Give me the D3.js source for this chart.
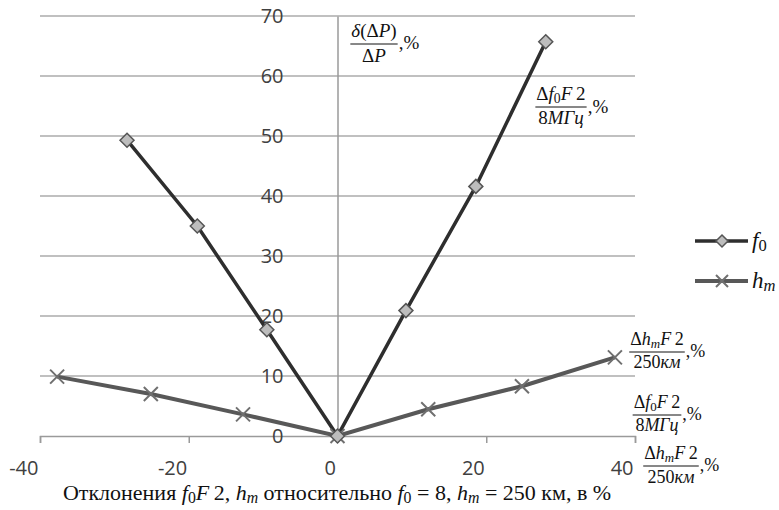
<!DOCTYPE html>
<html>
<head>
<meta charset="utf-8">
<script src="https://cdn.jsdelivr.net/npm/d3@7"></script>
<style>
  html, body { margin: 0; padding: 0; background: #fff; }
  svg { display: block; }
</style>
</head>
<body>
<svg id="chart" width="779" height="510"></svg>
<script>
// ---- data ----
const f0X = [-28.3, -18.85, -9.5, 0, 9.2, 18.6, 28.0];
const f0Y = [49.3, 35.0, 17.7, 0, 20.9, 41.6, 65.7];
const hmX = [-37.7, -25.1, -12.7, 0, 12.2, 24.8, 37.3];
const hmY = [9.9, 7.0, 3.6, 0, 4.45, 8.3, 13.1];
const xTicks = [-40, -20, 0, 20, 40];
const yTicks = [0, 10, 20, 30, 40, 50, 60, 70];
const seriesNames = ["f0", "hm"];

const svg = d3.select("#chart");
const x = d3.scaleLinear().domain([-40, 40]).range([40, 635]);
const y = d3.scaleLinear().domain([0, 70]).range([436, 16]);

const SANS = "'Open Sans', 'Liberation Sans', sans-serif";
const SERIF = "'Liberation Serif', 'DejaVu Serif', serif";

// gridlines
svg.append("g").selectAll("line").data(yTicks.filter(d => d > 0)).join("line")
  .attr("x1", x(-40)).attr("x2", x(40))
  .attr("y1", d => y(d)).attr("y2", d => y(d))
  .attr("stroke", "#ababab").attr("stroke-width", 1.5);

// x axis
const xAxis = d3.axisBottom(x).tickValues(xTicks).tickSize(7).tickFormat(d => String(d));
const gx = svg.append("g").attr("transform", `translate(0,${y(0)})`).call(xAxis);
gx.select(".domain").attr("stroke", "#9a9a9a").attr("stroke-width", 1.5);
gx.selectAll(".tick line").attr("stroke", "#9a9a9a").attr("stroke-width", 1.5);
gx.selectAll(".tick text")
  .attr("font-family", SANS).attr("font-size", 20).attr("fill", "#404040")
  .attr("text-anchor", "end").attr("dx", -2).attr("y", 0).attr("dy", 39);

// y axis (at x = 0), labels offset to the left
const yAxis = d3.axisLeft(y).tickValues(yTicks).tickSize(0).tickPadding(54).tickFormat(d => String(d));
const gy = svg.append("g").attr("transform", `translate(${x(0)},0)`).call(yAxis);
gy.select(".domain").attr("stroke", "#9a9a9a").attr("stroke-width", 1.5);
gy.selectAll(".tick text")
  .attr("font-family", SANS).attr("font-size", 20).attr("fill", "#404040");

// lines
const lineGen = d3.line().x(d => x(d[0])).y(d => y(d[1]));
const hmData = hmX.map((v, i) => [v, hmY[i]]);
const f0Data = f0X.map((v, i) => [v, f0Y[i]]);

svg.append("path").datum(hmData).attr("d", lineGen)
  .attr("fill", "none").attr("stroke", "#585858").attr("stroke-width", 4);
svg.append("path").datum(f0Data).attr("d", lineGen)
  .attr("fill", "none").attr("stroke", "#2e2e2e").attr("stroke-width", 3.5);

// markers
function drawX(g, cx, cy, r) {
  g.append("path")
    .attr("d", `M${cx - r},${cy - r}L${cx + r},${cy + r}M${cx - r},${cy + r}L${cx + r},${cy - r}`)
    .attr("stroke", "#707070").attr("stroke-width", 2).attr("fill", "none");
}
function drawDiamond(g, cx, cy, r) {
  g.append("path")
    .attr("d", `M${cx},${cy - r}L${cx + r},${cy}L${cx},${cy + r}L${cx - r},${cy}Z`)
    .attr("fill", "#bdbdbd").attr("stroke", "#555").attr("stroke-width", 1.5);
}
const mk = svg.append("g");
hmData.forEach(d => drawX(mk, x(d[0]), y(d[1]), 7));
f0Data.forEach(d => drawDiamond(mk, x(d[0]), y(d[1]), 7));

// ---- math text helpers ----
function mathText(sel, parts) {
  parts.forEach(p => {
    const ts = sel.append("tspan").text(p.t);
    if (p.i) ts.attr("font-style", "italic");
    if (p.sub) ts.attr("baseline-shift", "-0.2em").attr("font-size", "0.72em");
  });
  return sel;
}
function fraction(cx, numY, lineY, denY, num, den, suffixY, fs) {
  const g = svg.append("g").attr("font-family", SERIF).attr("font-size", fs).attr("fill", "#111");
  const n = mathText(g.append("text").attr("x", cx).attr("y", numY).attr("text-anchor", "middle"), num);
  const dd = mathText(g.append("text").attr("x", cx).attr("y", denY).attr("text-anchor", "middle"), den);
  const w = Math.max(n.node().getBBox().width, dd.node().getBBox().width) + 2;
  g.append("line").attr("x1", cx - w / 2).attr("x2", cx + w / 2)
    .attr("y1", lineY).attr("y2", lineY).attr("stroke", "#111").attr("stroke-width", 1);
  g.append("text").attr("x", cx + w / 2 + 1).attr("y", suffixY).text(",%");
  return g;
}

const numF0 = [{t: "Δ"}, {t: "f", i: true}, {t: "0", sub: true}, {t: "F", i: true}, {t: "\u20092"}];
const denF0 = [{t: "8"}, {t: "МГц", i: true}];
const numHm = [{t: "Δ"}, {t: "h", i: true}, {t: "m", i: true, sub: true}, {t: "F", i: true}, {t: "\u20092"}];
const denHm = [{t: "250"}, {t: "км", i: true}];

// y axis title
fraction(374, 37, 44, 62, [{t: "δ", i: true}, {t: "(Δ"}, {t: "P", i: true}, {t: ")"}],
  [{t: "Δ"}, {t: "P", i: true}], 49, 19);
// f0 annotation near the line
fraction(561, 100, 107, 124, numF0, denF0, 113, 19);
// hm annotation near the line end
fraction(657, 345, 352, 368, numHm, denHm, 357, 18);
// axis labels on the right below
fraction(657, 408, 415, 431, numF0, denF0, 420, 18);
fraction(671, 459, 466, 483, numHm, denHm, 471, 18);

// legend
const lg = svg.append("g");
lg.append("line").attr("x1", 695).attr("x2", 748).attr("y1", 241).attr("y2", 241)
  .attr("stroke", "#2e2e2e").attr("stroke-width", 3.5);
drawDiamond(lg, 722, 241, 6);
lg.append("line").attr("x1", 695).attr("x2", 748).attr("y1", 281).attr("y2", 281)
  .attr("stroke", "#585858").attr("stroke-width", 4);
drawX(lg, 722, 281, 6);
mathText(lg.append("text").attr("x", 752).attr("y", 248)
  .attr("font-family", SERIF).attr("font-size", 23).attr("fill", "#111"),
  [{t: "f", i: true}, {t: "0", sub: true}]);
mathText(lg.append("text").attr("x", 752).attr("y", 288)
  .attr("font-family", SERIF).attr("font-size", 23).attr("fill", "#111"),
  [{t: "h", i: true}, {t: "m", i: true, sub: true}]);

// x axis title
mathText(svg.append("text").attr("x", 337).attr("y", 500).attr("text-anchor", "middle")
  .attr("font-family", SERIF).attr("font-size", 22).attr("fill", "#111"),
  [{t: "Отклонения "}, {t: "f", i: true}, {t: "0", sub: true}, {t: "F", i: true}, {t: "\u20092, "},
   {t: "h", i: true}, {t: "m", i: true, sub: true}, {t: " относительно "},
   {t: "f", i: true}, {t: "0", sub: true}, {t: " = 8, "},
   {t: "h", i: true}, {t: "m", i: true, sub: true}, {t: " = 250 км, в %"}]);
</script>
</body>
</html>
